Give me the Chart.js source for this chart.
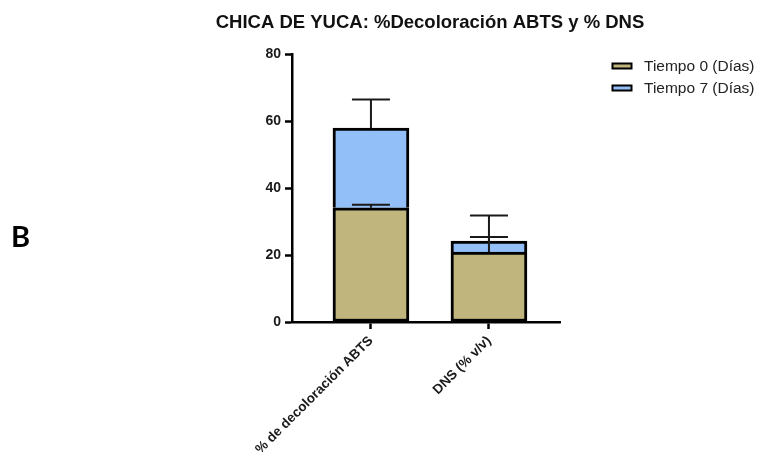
<!DOCTYPE html>
<html><head><meta charset="utf-8">
<script src="https://cdn.jsdelivr.net/npm/chart.js@4.4.1/dist/chart.umd.min.js"></script>
<style>
html,body{margin:0;padding:0;background:#fff;}
#wrap{position:relative;width:765px;height:452px;}
#panel{position:absolute;left:11px;top:221px;font:bold 29px "Liberation Sans Narrow","Lato",sans-serif;color:#000;line-height:1;}
</style></head><body>
<div id="wrap"><canvas id="c"></canvas><div id="panel">B</div></div>
<script>
const chartTitle = 'CHICA DE YUCA: %Decoloración ABTS y % DNS';
const categories = ['% de decoloración ABTS', 'DNS (% v/v)'];
const seriesNames = ['Tiempo 0 (Días)', 'Tiempo 7 (Días)'];
const tiempo0 = [34.1, 20.9];
const tiempo7 = [23.8, 3.3];
const error0 = [0.9, 4.5];
const error7 = [8.6, 7.6];
const yTicks = [0, 20, 40, 60, 80];

Chart.defaults.font.family = "'Liberation Sans', Arial, sans-serif";

const errorBars = {
  id: 'errorBars',
  afterLayout(chart) {
    // widen the title box so the text is not squeezed, centred like the reference
    const t = chart.titleBlock;
    if (t) { t.left = 200; t.right = 660; t.width = 460; }
  },
  afterDatasetsDraw(chart) {
    const ctx = chart.ctx, ys = chart.scales.y;
    ctx.save();
    ctx.strokeStyle = '#1a1a1a';
    ctx.lineWidth = 2;
    chart.data.datasets.forEach((ds, di) => {
      const meta = chart.getDatasetMeta(di);
      meta.data.forEach((bar, i) => {
        let top = 0;
        for (let k = 0; k <= di; k++) top += chart.data.datasets[k].data[i].y;
        const e = ds.errors[i];
        const yTop = ys.getPixelForValue(top);
        const yErr = ys.getPixelForValue(top + e);
        const half = bar.width / 4;
        ctx.beginPath();
        ctx.moveTo(bar.x, yTop); ctx.lineTo(bar.x, yErr);
        ctx.moveTo(bar.x - half, yErr); ctx.lineTo(bar.x + half, yErr);
        ctx.stroke();
      });
    });
    ctx.restore();
  }
};

const sideLegend = {
  id: 'sideLegend',
  afterDraw(chart) {
    const ctx = chart.ctx;
    ctx.save();
    const x0 = 612.5;
    chart.data.datasets.forEach((ds, i) => {
      const cy = 66 + i * 22;
      ctx.fillStyle = ds.backgroundColor;
      ctx.fillRect(x0, cy - 2.5, 19, 5);
      ctx.lineWidth = 2;
      ctx.strokeStyle = '#000';
      ctx.strokeRect(x0, cy - 2.5, 19, 5);
      ctx.fillStyle = '#222';
      ctx.font = "15.5px 'Liberation Sans', Arial, sans-serif";
      ctx.textBaseline = 'middle';
      ctx.textAlign = 'left';
      ctx.fillText(ds.label, 644, cy + 1);
    });
    ctx.restore();
  }
};

const axisGrid = {drawOnChartArea: false, drawTicks: true, tickLength: 7, tickWidth: 2.5, color: '#000', offset: false};

new Chart(document.getElementById('c'), {
  type: 'bar',
  data: {
    datasets: [
      {label: seriesNames[0], data: categories.map((c, i) => ({x: i, y: tiempo0[i]})),
       backgroundColor: '#C0B57D', borderColor: '#000', borderWidth: 3, borderSkipped: false, errors: error0},
      {label: seriesNames[1], data: categories.map((c, i) => ({x: i, y: tiempo7[i]})),
       backgroundColor: '#92BFF8', borderColor: '#000', borderWidth: 3, borderSkipped: 'start', errors: error7}
    ]
  },
  options: {
    responsive: true, maintainAspectRatio: false, animation: false,
    layout: {padding: {left: 0, right: 205, top: 0, bottom: 0}},
    datasets: {bar: {barThickness: 76}},
    plugins: {
      legend: {display: false},
      tooltip: {enabled: false},
      title: {display: true, text: chartTitle, fullSize: false, color: '#111',
              font: {size: 18.5, weight: 'bold'}, padding: {top: 12, bottom: 20}}
    },
    scales: {
      x: {
        type: 'linear', stacked: true, offset: false, min: -0.669, max: 1.602,
        afterBuildTicks(s) { s.ticks = categories.map((c, i) => ({value: i})); },
        afterFit(s) { s.height = 130; },
        ticks: {autoSkip: false, minRotation: 45, maxRotation: 45,
                callback: (v) => categories[v], font: {size: 13.5, weight: 'bold'}, color: '#1a1a1a', padding: 4},
        grid: axisGrid,
        border: {color: '#000', width: 2.5}
      },
      y: {
        stacked: true, min: 0, max: 80,
        afterBuildTicks(s) { s.ticks = yTicks.map(v => ({value: v})); },
        afterFit(s) { s.width = 292; },
        ticks: {font: {size: 14, weight: 'bold'}, color: '#1a1a1a', padding: 4},
        grid: axisGrid,
        border: {color: '#000', width: 2.5}
      }
    }
  },
  plugins: [errorBars, sideLegend]
});
</script>
</body></html>
